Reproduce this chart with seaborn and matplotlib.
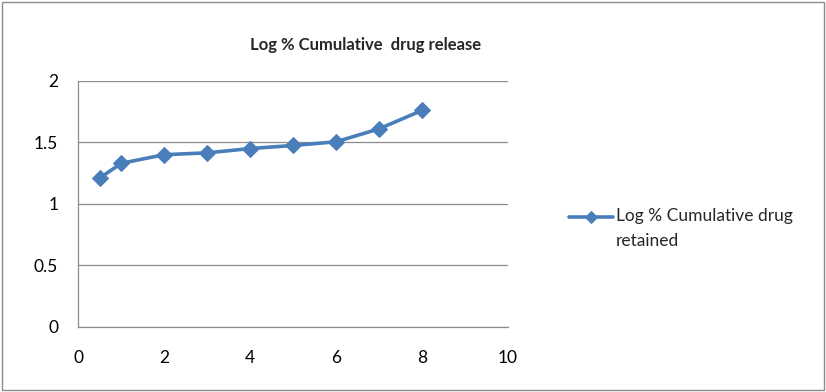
import matplotlib
matplotlib.use("Agg")
import matplotlib.pyplot as plt
import seaborn as sns
import pandas as pd
from matplotlib.patches import Rectangle
from matplotlib.legend_handler import HandlerLine2D

time_h = [0.5, 1, 2, 3, 4, 5, 6, 7, 8]
log_retained = [1.21, 1.33, 1.40, 1.415, 1.45, 1.475, 1.505, 1.61, 1.76]
series_label = "Log % Cumulative drug\nretained"
title = "Log % Cumulative  drug release"
x_ticks = [0, 2, 4, 6, 8, 10]
y_ticks = [0, 0.5, 1, 1.5, 2]
y_tick_labels = ["0", "0.5", "1", "1.5", "2"]

sns.set_theme(style="white")
plt.rcParams['font.family'] = ['Lato', 'DejaVu Sans']

df = pd.DataFrame({"x": time_h, "y": log_retained})

fig = plt.figure(figsize=(8.26, 3.92), dpi=100)
ax = fig.add_axes([0.0948, 0.1666, 0.5199, 0.6268])

color = "#4A7EBB"
sns.lineplot(data=df, x="x", y="y", ax=ax, color=color, linewidth=2.6,
             marker="D", markersize=8, markeredgecolor=color,
             label=series_label)

ax.set_xlim(0, 10)
ax.set_ylim(0, 2)
ax.set_xticks(x_ticks)
ax.set_yticks(y_ticks)
ax.set_yticklabels(y_tick_labels)
ax.set_xlabel("")
ax.set_ylabel("")
ax.yaxis.grid(True, color="#8c8c8c", linewidth=0.9)
ax.xaxis.grid(False)
for s in ["top", "right"]:
    ax.spines[s].set_visible(False)
for s in ["left", "bottom"]:
    ax.spines[s].set_color("#8c8c8c")
    ax.spines[s].set_linewidth(0.9)
ax.tick_params(axis="both", which="both", direction="out", length=4.5,
               color="#8c8c8c", labelsize=12.5, labelcolor="#000000", width=0.9)
ax.tick_params(axis="x", pad=12)
ax.tick_params(axis="y", pad=10)

fig.suptitle(title, x=0.443, y=0.905, fontsize=12, fontweight="bold")


class ShiftedHandler(HandlerLine2D):
    def create_artists(self, legend, orig_handle, xdescent, ydescent,
                       width, height, fontsize, trans):
        return super().create_artists(legend, orig_handle, xdescent,
                                      ydescent - 17, width, height,
                                      fontsize, trans)


handles, labels = ax.get_legend_handles_labels()
leg = ax.legend(handles, labels, loc="upper left",
                bbox_to_anchor=(1.126, 0.513), frameon=False,
                fontsize=12.5, handlelength=2.55, handletextpad=0.15,
                borderaxespad=0, markerscale=0.8,
                handler_map={handles[0]: ShiftedHandler()})
for t in leg.get_texts():
    t.set_linespacing(1.75)

fig.patches.append(Rectangle((0.002, 0.004), 0.996, 0.992, transform=fig.transFigure,
                             fill=False, edgecolor="#8c8c8c", linewidth=1.0))

fig.savefig("out.png", dpi=100)
